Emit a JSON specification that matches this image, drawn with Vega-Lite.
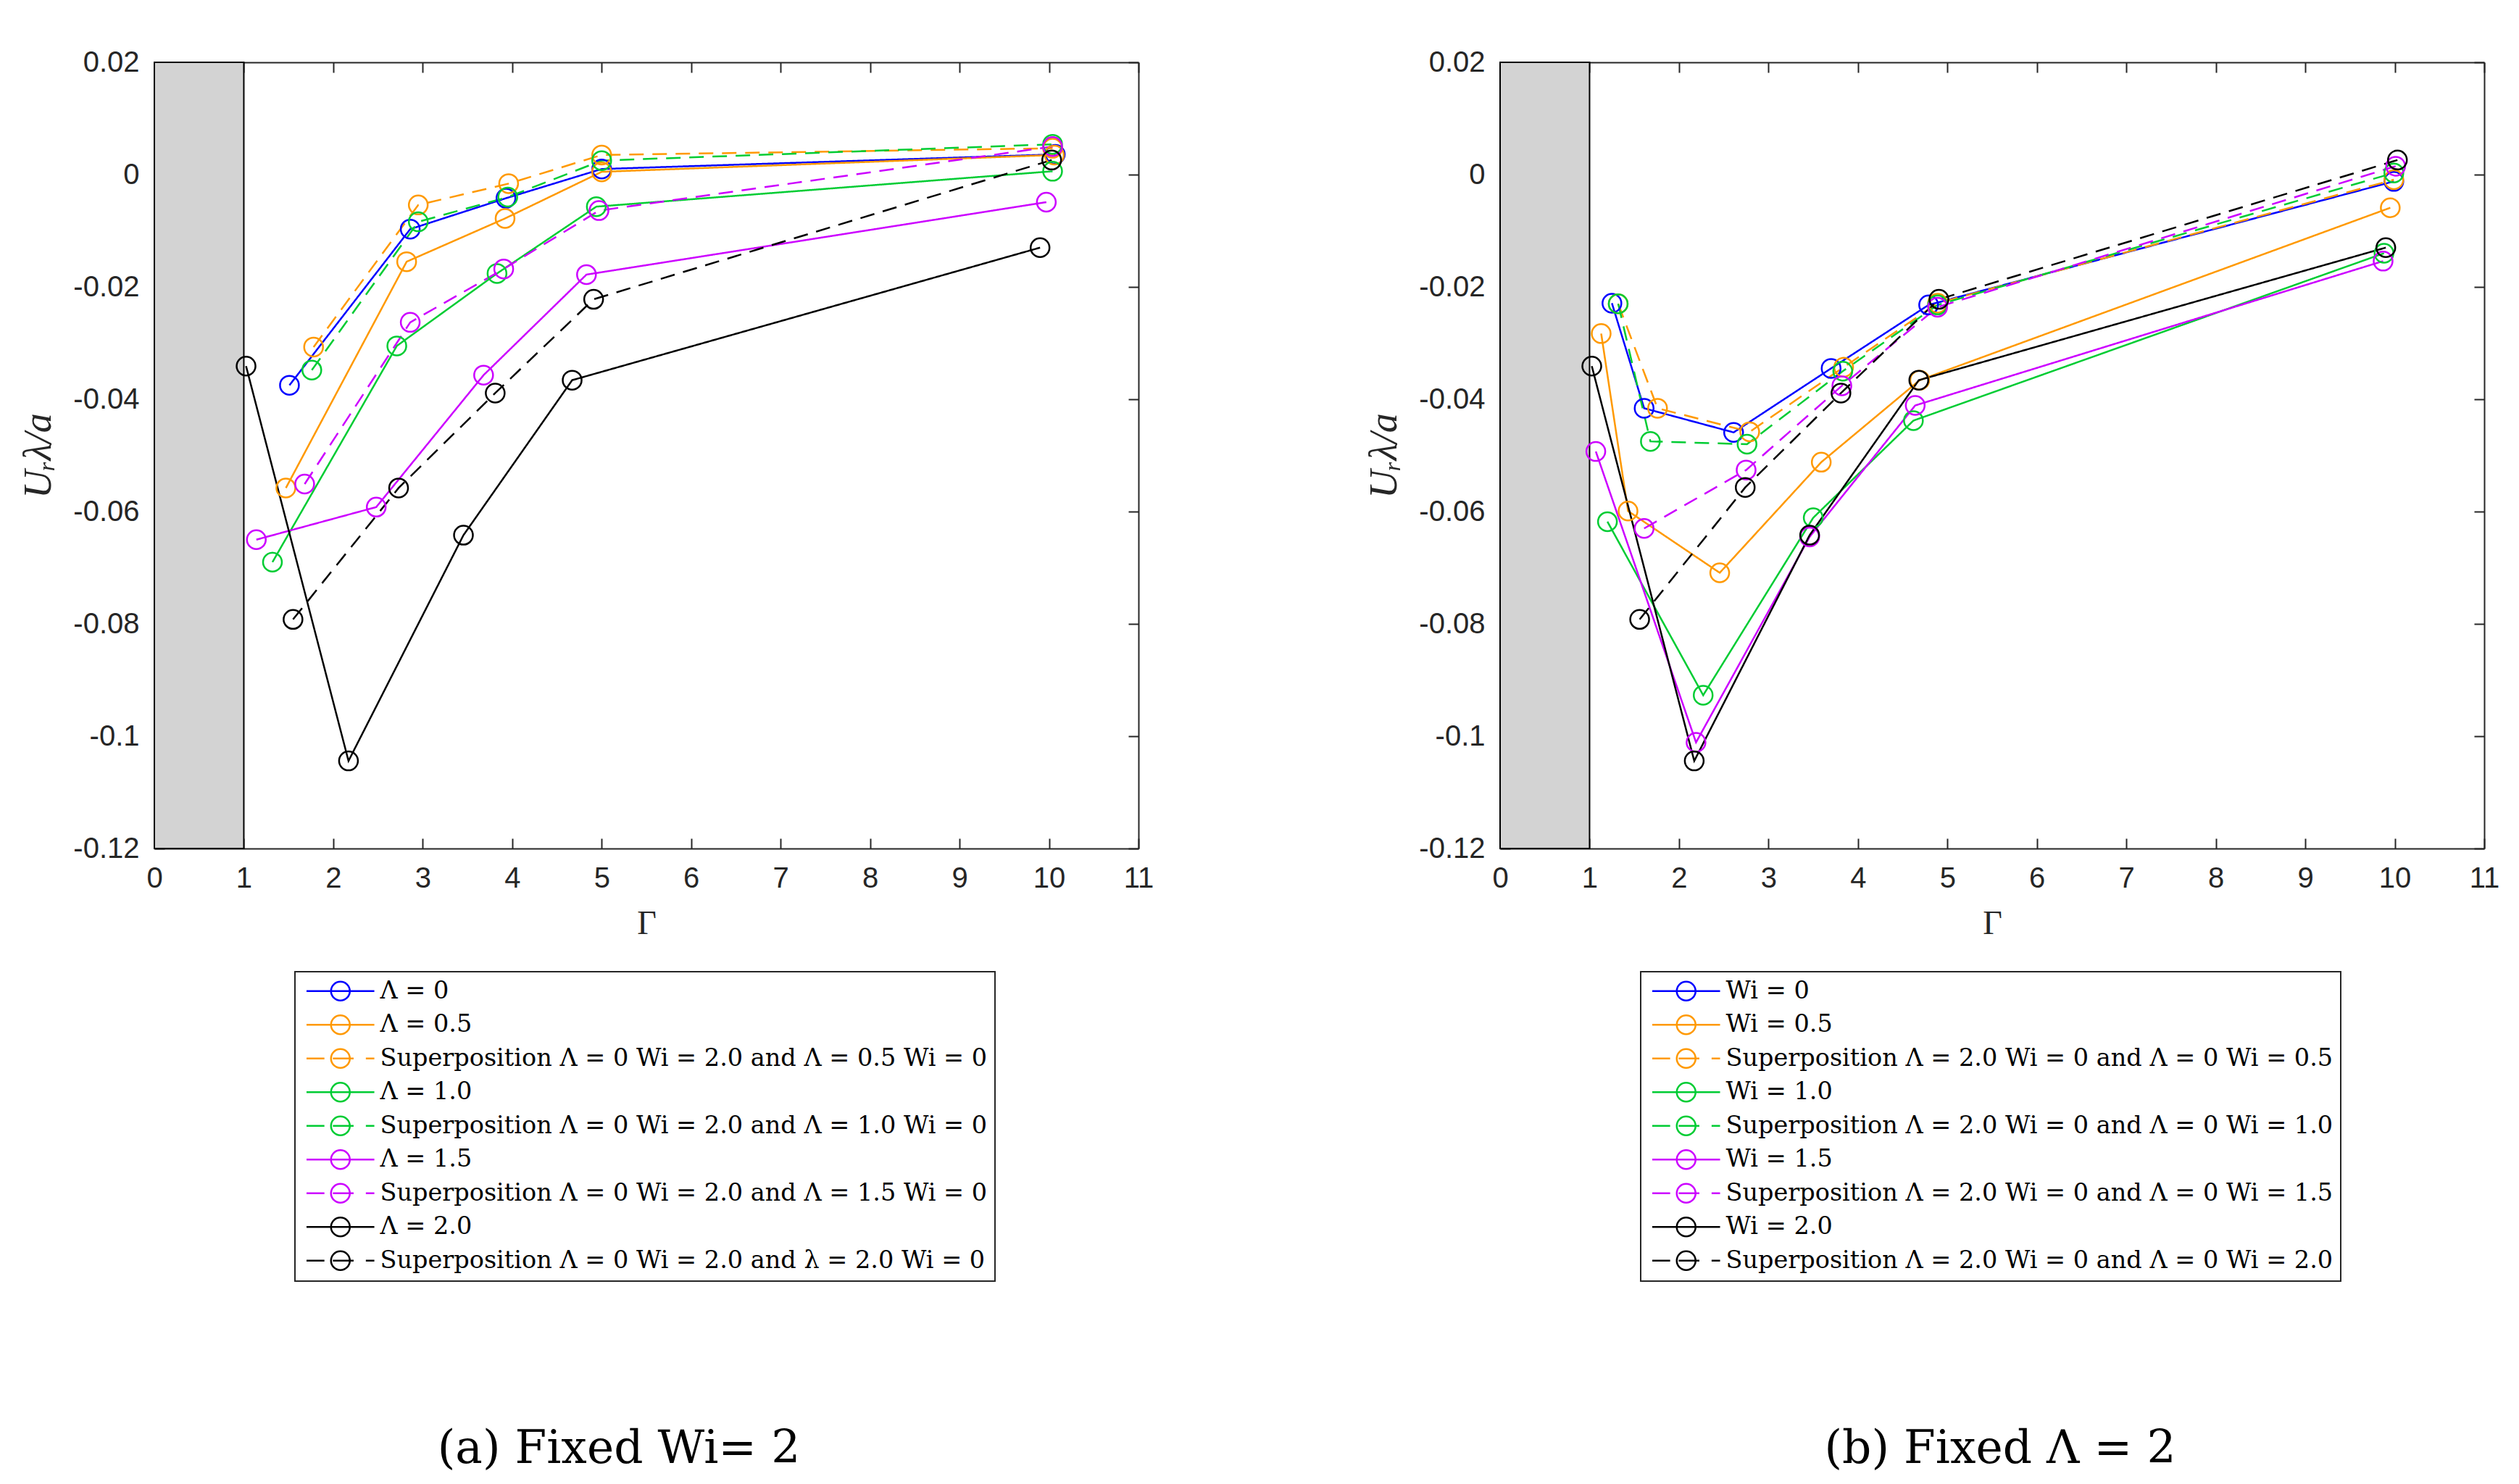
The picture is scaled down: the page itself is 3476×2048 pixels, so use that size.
{
  "$schema": "https://vega.github.io/schema/vega-lite/v6.json",
  "background": "white",
  "padding": {"left": 26, "top": 66, "right": 20, "bottom": 10},
  "spacing": 291,
  "datasets": {
    "a": [
      {"series": "Λ = 0", "gamma": 1.51, "u": -0.0375},
      {"series": "Λ = 0", "gamma": 2.86, "u": -0.0097},
      {"series": "Λ = 0", "gamma": 3.93, "u": -0.0042},
      {"series": "Λ = 0", "gamma": 5.0, "u": 0.001},
      {"series": "Λ = 0", "gamma": 10.07, "u": 0.0036},
      {"series": "Λ = 0.5", "gamma": 1.47, "u": -0.0558},
      {"series": "Λ = 0.5", "gamma": 2.82, "u": -0.0155},
      {"series": "Λ = 0.5", "gamma": 3.92, "u": -0.0078},
      {"series": "Λ = 0.5", "gamma": 5.0, "u": 0.0005},
      {"series": "Λ = 0.5", "gamma": 10.06, "u": 0.0035},
      {"series": "Superposition Λ = 0 Wi = 2.0 and Λ = 0.5 Wi = 0", "gamma": 1.78, "u": -0.0307},
      {"series": "Superposition Λ = 0 Wi = 2.0 and Λ = 0.5 Wi = 0", "gamma": 2.95, "u": -0.0054},
      {"series": "Superposition Λ = 0 Wi = 2.0 and Λ = 0.5 Wi = 0", "gamma": 3.96, "u": -0.0016},
      {"series": "Superposition Λ = 0 Wi = 2.0 and Λ = 0.5 Wi = 0", "gamma": 5.0, "u": 0.0035},
      {"series": "Superposition Λ = 0 Wi = 2.0 and Λ = 0.5 Wi = 0", "gamma": 10.04, "u": 0.0047},
      {"series": "Λ = 1.0", "gamma": 1.32, "u": -0.069},
      {"series": "Λ = 1.0", "gamma": 2.71, "u": -0.0305},
      {"series": "Λ = 1.0", "gamma": 3.83, "u": -0.0176},
      {"series": "Λ = 1.0", "gamma": 4.94, "u": -0.0057},
      {"series": "Λ = 1.0", "gamma": 10.04, "u": 0.0006},
      {"series": "Superposition Λ = 0 Wi = 2.0 and Λ = 1.0 Wi = 0", "gamma": 1.76, "u": -0.0348},
      {"series": "Superposition Λ = 0 Wi = 2.0 and Λ = 1.0 Wi = 0", "gamma": 2.95, "u": -0.0084},
      {"series": "Superposition Λ = 0 Wi = 2.0 and Λ = 1.0 Wi = 0", "gamma": 3.95, "u": -0.004},
      {"series": "Superposition Λ = 0 Wi = 2.0 and Λ = 1.0 Wi = 0", "gamma": 5.0, "u": 0.0025},
      {"series": "Superposition Λ = 0 Wi = 2.0 and Λ = 1.0 Wi = 0", "gamma": 10.04, "u": 0.0054},
      {"series": "Λ = 1.5", "gamma": 1.14, "u": -0.065},
      {"series": "Λ = 1.5", "gamma": 2.48, "u": -0.0592},
      {"series": "Λ = 1.5", "gamma": 3.68, "u": -0.0357},
      {"series": "Λ = 1.5", "gamma": 4.83, "u": -0.0178},
      {"series": "Λ = 1.5", "gamma": 9.97, "u": -0.0049},
      {"series": "Superposition Λ = 0 Wi = 2.0 and Λ = 1.5 Wi = 0", "gamma": 1.68, "u": -0.0551},
      {"series": "Superposition Λ = 0 Wi = 2.0 and Λ = 1.5 Wi = 0", "gamma": 2.86, "u": -0.0263},
      {"series": "Superposition Λ = 0 Wi = 2.0 and Λ = 1.5 Wi = 0", "gamma": 3.905, "u": -0.0168},
      {"series": "Superposition Λ = 0 Wi = 2.0 and Λ = 1.5 Wi = 0", "gamma": 4.97, "u": -0.0064},
      {"series": "Superposition Λ = 0 Wi = 2.0 and Λ = 1.5 Wi = 0", "gamma": 10.04, "u": 0.005},
      {"series": "Λ = 2.0", "gamma": 1.025, "u": -0.0341},
      {"series": "Λ = 2.0", "gamma": 2.17, "u": -0.1044},
      {"series": "Λ = 2.0", "gamma": 3.455, "u": -0.0642},
      {"series": "Λ = 2.0", "gamma": 4.67, "u": -0.0366},
      {"series": "Λ = 2.0", "gamma": 9.9, "u": -0.013},
      {"series": "Superposition Λ = 0 Wi = 2.0 and λ = 2.0 Wi = 0", "gamma": 1.55, "u": -0.0792},
      {"series": "Superposition Λ = 0 Wi = 2.0 and λ = 2.0 Wi = 0", "gamma": 2.73, "u": -0.0558},
      {"series": "Superposition Λ = 0 Wi = 2.0 and λ = 2.0 Wi = 0", "gamma": 3.81, "u": -0.0389},
      {"series": "Superposition Λ = 0 Wi = 2.0 and λ = 2.0 Wi = 0", "gamma": 4.91, "u": -0.0222},
      {"series": "Superposition Λ = 0 Wi = 2.0 and λ = 2.0 Wi = 0", "gamma": 10.03, "u": 0.0026}
    ],
    "b": [
      {"series": "Wi = 0", "gamma": 1.25, "u": -0.0229},
      {"series": "Wi = 0", "gamma": 1.61, "u": -0.0416},
      {"series": "Wi = 0", "gamma": 2.61, "u": -0.0459},
      {"series": "Wi = 0", "gamma": 3.7, "u": -0.0345},
      {"series": "Wi = 0", "gamma": 4.79, "u": -0.0232},
      {"series": "Wi = 0", "gamma": 9.99, "u": -0.0012},
      {"series": "Wi = 0.5", "gamma": 1.13, "u": -0.0283},
      {"series": "Wi = 0.5", "gamma": 1.43, "u": -0.0599},
      {"series": "Wi = 0.5", "gamma": 2.455, "u": -0.0709},
      {"series": "Wi = 0.5", "gamma": 3.59, "u": -0.0512},
      {"series": "Wi = 0.5", "gamma": 4.69, "u": -0.0366},
      {"series": "Wi = 0.5", "gamma": 9.95, "u": -0.0059},
      {"series": "Superposition Λ = 2.0 Wi = 0 and Λ = 0 Wi = 0.5", "gamma": 1.32, "u": -0.023},
      {"series": "Superposition Λ = 2.0 Wi = 0 and Λ = 0 Wi = 0.5", "gamma": 1.76, "u": -0.0416},
      {"series": "Superposition Λ = 2.0 Wi = 0 and Λ = 0 Wi = 0.5", "gamma": 2.79, "u": -0.0458},
      {"series": "Superposition Λ = 2.0 Wi = 0 and Λ = 0 Wi = 0.5", "gamma": 3.84, "u": -0.0343},
      {"series": "Superposition Λ = 2.0 Wi = 0 and Λ = 0 Wi = 0.5", "gamma": 4.89, "u": -0.0229},
      {"series": "Superposition Λ = 2.0 Wi = 0 and Λ = 0 Wi = 0.5", "gamma": 9.99, "u": -0.0009},
      {"series": "Wi = 1.0", "gamma": 1.2, "u": -0.0618},
      {"series": "Wi = 1.0", "gamma": 2.27, "u": -0.0927},
      {"series": "Wi = 1.0", "gamma": 3.5, "u": -0.0611},
      {"series": "Wi = 1.0", "gamma": 4.62, "u": -0.0438},
      {"series": "Wi = 1.0", "gamma": 9.88, "u": -0.014},
      {"series": "Superposition Λ = 2.0 Wi = 0 and Λ = 0 Wi = 1.0", "gamma": 1.32, "u": -0.023},
      {"series": "Superposition Λ = 2.0 Wi = 0 and Λ = 0 Wi = 1.0", "gamma": 1.68, "u": -0.0475},
      {"series": "Superposition Λ = 2.0 Wi = 0 and Λ = 0 Wi = 1.0", "gamma": 2.76, "u": -0.048},
      {"series": "Superposition Λ = 2.0 Wi = 0 and Λ = 0 Wi = 1.0", "gamma": 3.83, "u": -0.035},
      {"series": "Superposition Λ = 2.0 Wi = 0 and Λ = 0 Wi = 1.0", "gamma": 4.89, "u": -0.0232},
      {"series": "Superposition Λ = 2.0 Wi = 0 and Λ = 0 Wi = 1.0", "gamma": 9.99, "u": 0.0003},
      {"series": "Wi = 1.5", "gamma": 1.07, "u": -0.0493},
      {"series": "Wi = 1.5", "gamma": 2.19, "u": -0.1011},
      {"series": "Wi = 1.5", "gamma": 3.46, "u": -0.0645},
      {"series": "Wi = 1.5", "gamma": 4.64, "u": -0.0411},
      {"series": "Wi = 1.5", "gamma": 9.87, "u": -0.0154},
      {"series": "Superposition Λ = 2.0 Wi = 0 and Λ = 0 Wi = 1.5", "gamma": 1.61, "u": -0.063},
      {"series": "Superposition Λ = 2.0 Wi = 0 and Λ = 0 Wi = 1.5", "gamma": 2.75, "u": -0.0526},
      {"series": "Superposition Λ = 2.0 Wi = 0 and Λ = 0 Wi = 1.5", "gamma": 3.82, "u": -0.0376},
      {"series": "Superposition Λ = 2.0 Wi = 0 and Λ = 0 Wi = 1.5", "gamma": 4.89, "u": -0.0236},
      {"series": "Superposition Λ = 2.0 Wi = 0 and Λ = 0 Wi = 1.5", "gamma": 10.01, "u": 0.0015},
      {"series": "Wi = 2.0", "gamma": 1.025, "u": -0.0341},
      {"series": "Wi = 2.0", "gamma": 2.17, "u": -0.1044},
      {"series": "Wi = 2.0", "gamma": 3.46, "u": -0.0642},
      {"series": "Wi = 2.0", "gamma": 4.68, "u": -0.0366},
      {"series": "Wi = 2.0", "gamma": 9.9, "u": -0.013},
      {"series": "Superposition Λ = 2.0 Wi = 0 and Λ = 0 Wi = 2.0", "gamma": 1.56, "u": -0.0792},
      {"series": "Superposition Λ = 2.0 Wi = 0 and Λ = 0 Wi = 2.0", "gamma": 2.74, "u": -0.0557},
      {"series": "Superposition Λ = 2.0 Wi = 0 and Λ = 0 Wi = 2.0", "gamma": 3.81, "u": -0.0389},
      {"series": "Superposition Λ = 2.0 Wi = 0 and Λ = 0 Wi = 2.0", "gamma": 4.905, "u": -0.0222},
      {"series": "Superposition Λ = 2.0 Wi = 0 and Λ = 0 Wi = 2.0", "gamma": 10.03, "u": 0.0026}
    ],
    "cylinder": [{"g0": 0, "g1": 1, "u0": -0.12, "u1": 0.02}]
  },
  "hconcat": [
    {
      "width": 1358,
      "height": 1085,
      "title": {"text": "(a) Fixed Wi= 2", "orient": "bottom", "offset": 200, "dx": -38},
      "layer": [
        {
          "data": {"name": "cylinder"},
          "mark": {"type": "rect", "fill": "#d3d3d3", "stroke": "#000000", "strokeWidth": 2},
          "encoding": {
            "x": {"field": "g0", "type": "quantitative", "scale": {"domain": [0, 11], "nice": false, "zero": false},
                  "axis": {"orient": "top", "labels": false, "title": null, "values": [0,1,2,3,4,5,6,7,8,9,10,11]}},
            "x2": {"field": "g1"},
            "y": {"field": "u0", "type": "quantitative", "scale": {"domain": [-0.12, 0.02], "nice": false, "zero": false},
                  "axis": {"orient": "right", "labels": false, "title": null, "values": [-0.12,-0.1,-0.08,-0.06,-0.04,-0.02,0,0.02]}},
            "y2": {"field": "u1"}
          }
        },
        {
          "data": {"name": "a"},
          "mark": {"type": "line", "strokeWidth": 2.5},
          "encoding": {
            "x": {"field": "gamma", "type": "quantitative", "axis": {"title": "Γ", "values": [0,1,2,3,4,5,6,7,8,9,10,11], "format": "d"}},
            "y": {"field": "u", "type": "quantitative",
                  "axis": {"title": "Uᵣλ/a", "titleFontStyle": "italic", "titleFontSize": 54, "values": [-0.12,-0.1,-0.08,-0.06,-0.04,-0.02,0,0.02],
                           "labelExpr": "replace(format(datum.value, '~g'), '−', '-')"}},
            "color": {"field": "series", "type": "nominal",
              "scale": {"domain": ["Λ = 0", "Λ = 0.5", "Superposition Λ = 0 Wi = 2.0 and Λ = 0.5 Wi = 0", "Λ = 1.0", "Superposition Λ = 0 Wi = 2.0 and Λ = 1.0 Wi = 0", "Λ = 1.5", "Superposition Λ = 0 Wi = 2.0 and Λ = 1.5 Wi = 0", "Λ = 2.0", "Superposition Λ = 0 Wi = 2.0 and λ = 2.0 Wi = 0"],
                        "range": ["#0000FF", "#FF9900", "#FF9900", "#00CC33", "#00CC33", "#CC00FF", "#CC00FF", "#000000", "#000000"]},
              "legend": {"title": null,
                "encode": {"symbols": {"update": {
                  "shape": {"signal": "indexof(datum.value, 'Superposition') === 0 ? 'M-3.6,0L-1.7,0M-0.8,0L1.4,0M2.7,0L3.6,0M1,0A1,1,0,1,1,-1,0A1,1,0,1,1,1,0' : 'M-3.6,0L3.6,0M1,0A1,1,0,1,1,-1,0A1,1,0,1,1,1,0'"},
                  "strokeDash": {"value": []}}}}}},
            "strokeDash": {"condition": {"test": "indexof(datum.series, 'Superposition') === 0", "value": [20, 12]}, "value": [1, 0]}
          }
        },
        {
          "data": {"name": "a"},
          "mark": {"type": "point", "shape": "circle", "filled": false, "size": 676, "strokeWidth": 2.5, "opacity": 1},
          "encoding": {
            "x": {"field": "gamma", "type": "quantitative", "axis": null},
            "y": {"field": "u", "type": "quantitative", "axis": null},
            "color": {"field": "series", "type": "nominal"}
          }
        }
      ],
      "resolve": {"axis": {"x": "independent", "y": "independent"}}
    },
    {
      "width": 1358,
      "height": 1085,
      "title": {"text": "(b) Fixed Λ = 2", "orient": "bottom", "offset": 200, "dx": 11},
      "layer": [
        {
          "data": {"name": "cylinder"},
          "mark": {"type": "rect", "fill": "#d3d3d3", "stroke": "#000000", "strokeWidth": 2},
          "encoding": {
            "x": {"field": "g0", "type": "quantitative", "scale": {"domain": [0, 11], "nice": false, "zero": false},
                  "axis": {"orient": "top", "labels": false, "title": null, "values": [0,1,2,3,4,5,6,7,8,9,10,11]}},
            "x2": {"field": "g1"},
            "y": {"field": "u0", "type": "quantitative", "scale": {"domain": [-0.12, 0.02], "nice": false, "zero": false},
                  "axis": {"orient": "right", "labels": false, "title": null, "values": [-0.12,-0.1,-0.08,-0.06,-0.04,-0.02,0,0.02]}},
            "y2": {"field": "u1"}
          }
        },
        {
          "data": {"name": "b"},
          "mark": {"type": "line", "strokeWidth": 2.5},
          "encoding": {
            "x": {"field": "gamma", "type": "quantitative", "axis": {"title": "Γ", "values": [0,1,2,3,4,5,6,7,8,9,10,11], "format": "d"}},
            "y": {"field": "u", "type": "quantitative",
                  "axis": {"title": "Uᵣλ/a", "titleFontStyle": "italic", "titleFontSize": 54, "values": [-0.12,-0.1,-0.08,-0.06,-0.04,-0.02,0,0.02],
                           "labelExpr": "replace(format(datum.value, '~g'), '−', '-')"}},
            "color": {"field": "series", "type": "nominal",
              "scale": {"domain": ["Wi = 0", "Wi = 0.5", "Superposition Λ = 2.0 Wi = 0 and Λ = 0 Wi = 0.5", "Wi = 1.0", "Superposition Λ = 2.0 Wi = 0 and Λ = 0 Wi = 1.0", "Wi = 1.5", "Superposition Λ = 2.0 Wi = 0 and Λ = 0 Wi = 1.5", "Wi = 2.0", "Superposition Λ = 2.0 Wi = 0 and Λ = 0 Wi = 2.0"],
                        "range": ["#0000FF", "#FF9900", "#FF9900", "#00CC33", "#00CC33", "#CC00FF", "#CC00FF", "#000000", "#000000"]},
              "legend": {"title": null,
                "encode": {"symbols": {"update": {
                  "shape": {"signal": "indexof(datum.value, 'Superposition') === 0 ? 'M-3.6,0L-1.7,0M-0.8,0L1.4,0M2.7,0L3.6,0M1,0A1,1,0,1,1,-1,0A1,1,0,1,1,1,0' : 'M-3.6,0L3.6,0M1,0A1,1,0,1,1,-1,0A1,1,0,1,1,1,0'"},
                  "strokeDash": {"value": []}}}}}},
            "strokeDash": {"condition": {"test": "indexof(datum.series, 'Superposition') === 0", "value": [20, 12]}, "value": [1, 0]}
          }
        },
        {
          "data": {"name": "b"},
          "mark": {"type": "point", "shape": "circle", "filled": false, "size": 676, "strokeWidth": 2.5, "opacity": 1},
          "encoding": {
            "x": {"field": "gamma", "type": "quantitative", "axis": null},
            "y": {"field": "u", "type": "quantitative", "axis": null},
            "color": {"field": "series", "type": "nominal"}
          }
        }
      ],
      "resolve": {"axis": {"x": "independent", "y": "independent"}}
    }
  ],
  "resolve": {"scale": {"color": "independent"}, "legend": {"color": "independent"}},
  "config": {
    "view": {"stroke": null},
    "axis": {
      "grid": false,
      "domainColor": "#262626",
      "domainWidth": 2,
      "tickColor": "#262626",
      "tickWidth": 2,
      "tickSize": -14,
      "labelPadding": 35,
      "labelFlush": false,
      "labelFont": "Liberation Sans",
      "labelFontSize": 40,
      "labelColor": "#262626",
      "titleFont": "Liberation Serif",
      "titleFontWeight": "normal",
      "titleFontSize": 46,
      "titleColor": "#262626",
      "titlePadding": 20
    },
    "legend": {
      "orient": "none",
      "legendX": 194,
      "legendY": 1255,
      "direction": "vertical",
      "labelFont": "DejaVu Serif",
      "labelFontSize": 33.5,
      "labelColor": "#000000",
      "labelLimit": 0,
      "labelOffset": 38,
      "strokeColor": "#262626",
      "strokeWidth": 2,
      "fillColor": "#ffffff",
      "padding": 10,
      "rowPadding": 9.5,
      "symbolType": "M-3.6,0L3.6,0M1,0A1,1,0,1,1,-1,0A1,1,0,1,1,1,0",
      "symbolSize": 676,
      "symbolStrokeWidth": 2.5,
      "symbolOffset": 36
    },
    "title": {"font": "DejaVu Serif", "fontSize": 63, "fontWeight": "normal", "color": "#000000"}
  }
}
